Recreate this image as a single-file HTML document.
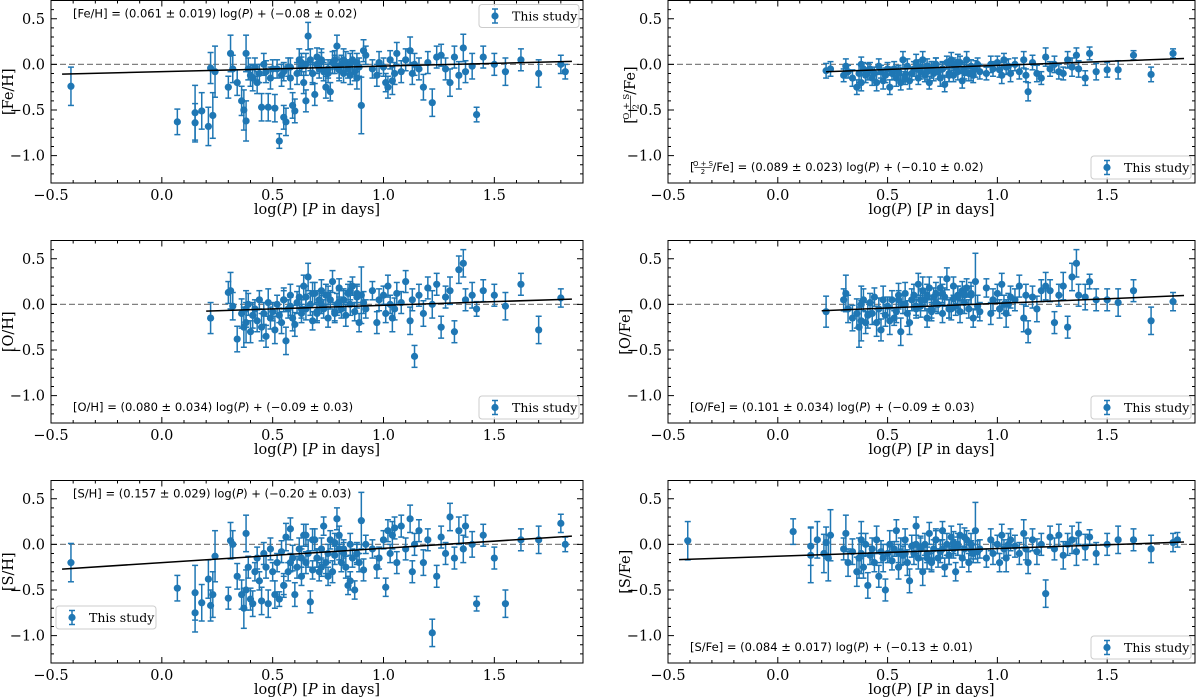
<!DOCTYPE html>
<html><head><meta charset="utf-8"><style>
html,body{margin:0;padding:0;background:#fff;}
svg{display:block;}
.tick{font-family:"DejaVu Serif","Liberation Serif",serif;font-size:14.5px;fill:#000;}
.lab{font-family:"DejaVu Serif","Liberation Serif",serif;font-size:14.5px;fill:#000;}
.ann{font-family:"DejaVu Sans","Liberation Sans",sans-serif;font-size:11.5px;fill:#000;}
.leg{font-family:"DejaVu Serif","Liberation Serif",serif;font-size:12.5px;fill:#000;}
</style></head><body>
<svg id="fig" width="1200" height="697" viewBox="0 0 1200 697" xmlns="http://www.w3.org/2000/svg"></svg>
<script>
const logP = [-0.41,0.07,0.15,0.15,0.18,0.21,0.22,0.23,0.24,0.30,
0.31,0.32,0.34,0.36,0.37,0.38,0.38,0.39,0.40,0.41,
0.42,0.43,0.44,0.45,0.46,0.47,0.48,0.49,0.50,0.51,
0.52,0.53,0.54,0.55,0.56,0.57,0.58,0.59,0.60,0.61,
0.62,0.63,0.64,0.65,0.66,0.67,0.68,0.69,0.70,0.71,
0.72,0.73,0.74,0.75,0.76,0.77,0.78,0.79,0.80,0.81,
0.82,0.83,0.84,0.85,0.86,0.87,0.88,0.89,0.90,0.91,
0.92,0.95,0.97,0.98,1.00,1.01,1.02,1.03,1.04,1.06,
1.08,1.10,1.12,1.13,1.14,1.16,1.18,1.20,1.22,1.24,
1.26,1.28,1.30,1.32,1.34,1.36,1.37,1.40,1.42,1.45,
1.50,1.55,1.62,1.70,1.80,1.82,0.55,0.63,0.68,0.72,
0.75,0.78,0.82,0.85,0.58,0.65,0.70,0.80,0.88,1.05];
const feH = [-0.24,-0.63,-0.64,-0.53,-0.51,-0.68,-0.04,-0.56,-0.08,-0.25,
0.12,-0.05,-0.20,-0.40,-0.50,0.12,-0.62,-0.05,-0.12,-0.15,
-0.03,-0.20,-0.10,-0.47,0.00,-0.08,-0.47,-0.15,-0.05,-0.48,
-0.05,-0.84,-0.12,-0.58,-0.63,-0.03,-0.15,-0.45,-0.51,-0.10,
0.05,-0.02,-0.20,-0.40,0.31,0.05,-0.10,-0.33,0.00,-0.05,
0.05,-0.08,-0.25,-0.10,-0.30,0.02,0.05,0.20,-0.05,0.00,
-0.10,0.02,-0.05,0.00,0.05,-0.08,-0.15,-0.03,-0.45,0.15,
0.10,-0.05,-0.12,0.02,-0.03,-0.20,-0.25,0.05,-0.18,0.12,
-0.08,0.05,0.15,-0.10,0.00,-0.05,-0.25,0.02,-0.42,0.08,
0.10,-0.05,-0.20,0.08,-0.12,0.18,-0.08,-0.02,-0.55,0.08,
0.00,-0.08,0.05,-0.10,0.00,-0.08,-0.08,0.02,-0.10,0.03,
-0.05,0.00,0.05,-0.12,-0.03,0.00,0.08,-0.06,0.02,-0.10];
const osFe = [null,null,null,null,null,null,-0.07,null,-0.05,-0.12,
-0.02,-0.08,-0.15,-0.25,-0.10,0.00,-0.20,-0.05,-0.12,-0.08,
-0.05,-0.15,-0.10,-0.20,-0.02,-0.08,-0.18,-0.12,-0.05,-0.25,
-0.10,-0.05,-0.15,-0.08,-0.20,0.05,-0.12,-0.02,-0.18,-0.10,
-0.05,0.02,-0.15,-0.08,0.05,-0.12,-0.02,-0.20,-0.06,-0.10,
0.00,-0.08,-0.15,-0.05,-0.22,0.02,-0.10,0.05,-0.12,-0.03,
-0.08,0.02,-0.18,-0.05,0.05,-0.10,-0.02,-0.12,-0.05,0.00,
-0.08,-0.10,0.00,-0.05,0.02,-0.06,-0.12,0.05,-0.03,-0.10,
0.00,-0.08,0.05,-0.12,-0.30,0.02,-0.10,-0.15,0.08,-0.05,
0.00,-0.08,-0.10,0.05,-0.03,0.10,-0.05,-0.15,0.12,-0.08,
-0.06,-0.06,0.10,-0.11,0.12,null,-0.10,-0.05,-0.08,0.00,
-0.05,-0.12,0.02,-0.08,-0.15,-0.03,-0.06,0.00,-0.10,-0.02];
const oH = [null,null,null,null,null,null,-0.15,null,null,0.13,
0.15,-0.02,-0.38,-0.10,-0.25,-0.05,-0.20,0.00,-0.30,-0.12,
-0.05,-0.18,0.05,-0.25,-0.10,-0.35,0.02,-0.15,-0.08,-0.28,
0.00,-0.12,-0.20,0.05,-0.40,-0.05,0.10,-0.15,-0.22,0.02,
0.08,-0.10,0.20,-0.05,0.30,0.00,-0.18,0.12,-0.08,0.05,
0.15,-0.05,0.10,-0.15,0.05,0.25,-0.10,0.00,0.18,-0.05,
0.05,-0.12,0.12,0.00,0.20,-0.08,0.08,-0.20,0.10,0.02,
-0.05,0.15,-0.20,0.05,0.10,-0.10,0.20,0.00,-0.15,0.12,
0.02,0.25,-0.18,0.05,-0.57,0.10,-0.10,0.18,0.00,0.22,
-0.25,0.08,0.15,-0.30,0.38,0.45,0.05,0.10,-0.05,0.15,
0.10,-0.02,0.22,-0.28,0.07,null,0.05,-0.05,0.12,0.00,
0.10,-0.08,0.05,0.15,-0.02,0.08,-0.10,0.03,0.12,-0.05];
const oFe = [null,null,null,null,null,null,-0.08,null,null,0.05,
0.12,-0.05,-0.15,-0.10,-0.25,0.00,-0.18,0.05,-0.20,-0.12,
0.02,-0.10,0.08,-0.20,-0.05,-0.28,0.05,-0.12,-0.02,-0.18,
0.05,-0.15,-0.08,0.10,-0.30,0.00,0.12,-0.10,-0.20,0.05,
0.10,-0.05,0.22,-0.02,0.15,0.05,-0.15,0.18,-0.05,0.08,
0.12,0.00,0.18,-0.10,0.08,0.28,-0.05,-0.05,0.20,-0.02,
0.10,-0.08,0.15,0.02,0.18,-0.05,0.12,-0.15,0.25,-0.02,
-0.08,0.18,-0.10,0.05,0.12,-0.05,0.22,0.00,-0.10,0.08,
0.05,0.20,-0.15,0.10,-0.30,0.08,-0.05,0.15,0.20,0.15,
-0.20,0.10,0.20,-0.25,0.30,0.45,0.10,0.08,0.25,0.05,
0.05,0.02,0.15,-0.18,0.03,null,0.05,-0.02,0.10,0.02,
0.12,-0.05,0.08,0.10,0.00,0.05,-0.08,0.06,0.10,0.00];
const sH = [-0.20,-0.48,-0.75,-0.53,-0.64,-0.38,-0.67,-0.55,-0.13,-0.59,
0.04,0.00,-0.35,-0.55,-0.70,0.12,-0.50,-0.25,-0.60,-0.65,
-0.30,-0.15,-0.40,-0.62,-0.10,-0.25,-0.65,-0.05,-0.30,-0.55,
-0.20,-0.60,-0.08,-0.45,0.08,-0.30,0.17,-0.15,-0.55,-0.25,
-0.05,-0.35,0.10,-0.20,-0.10,-0.63,-0.28,0.05,-0.15,-0.30,
-0.05,0.20,-0.20,-0.10,0.05,-0.30,-0.12,0.28,0.10,-0.20,
-0.05,-0.25,-0.45,0.00,-0.15,-0.50,-0.10,-0.20,0.26,-0.28,
0.00,-0.05,-0.25,-0.15,0.05,-0.47,0.15,-0.10,0.10,-0.20,
0.20,-0.05,0.28,-0.30,0.00,0.15,-0.20,0.05,-0.97,-0.35,
0.08,-0.10,0.30,-0.15,0.15,-0.05,0.20,0.00,-0.65,0.10,
-0.15,-0.65,0.05,0.05,0.23,0.00,-0.45,-0.15,0.05,-0.25,
-0.35,0.02,-0.10,-0.40,-0.20,0.10,-0.15,-0.05,-0.10,0.18];
const sFe = [0.04,0.14,-0.02,-0.12,0.05,-0.10,0.02,-0.15,0.10,-0.05,
0.12,-0.20,-0.08,-0.30,-0.15,0.05,-0.10,-0.25,0.00,-0.45,
-0.12,-0.05,-0.20,0.05,-0.35,-0.08,-0.15,-0.50,-0.10,0.00,
-0.18,-0.05,0.15,-0.25,-0.08,-0.12,0.05,-0.20,-0.40,-0.02,
-0.10,0.20,-0.15,-0.05,-0.30,0.00,-0.10,0.12,-0.20,-0.05,
0.05,-0.15,-0.08,0.15,-0.25,0.00,-0.12,0.08,-0.05,-0.30,
-0.02,0.10,-0.15,-0.05,0.05,-0.20,0.00,-0.10,0.15,-0.08,
-0.05,-0.15,0.05,-0.10,0.00,-0.20,0.10,-0.05,-0.15,0.05,
-0.02,-0.10,0.12,-0.05,-0.20,0.05,-0.08,0.00,-0.54,0.08,
-0.05,0.10,-0.12,0.00,0.05,-0.08,0.12,-0.03,0.08,-0.10,
0.00,0.05,0.05,-0.05,0.02,0.05,-0.10,0.00,-0.15,0.05,
-0.05,-0.12,0.00,0.08,-0.10,-0.03,-0.18,0.02,-0.06,0.00];
const errH = [0.21,0.14,0.21,0.30,0.20,0.21,0.17,0.25,0.28,0.12,
0.20,0.15,0.14,0.16,0.22,0.20,0.22,0.12,0.12,0.14,
0.10,0.12,0.10,0.15,0.12,0.12,0.15,0.12,0.10,0.15,
0.10,0.08,0.12,0.13,0.15,0.10,0.12,0.14,0.13,0.12,
0.12,0.10,0.12,0.12,0.15,0.12,0.10,0.12,0.10,0.10,
0.12,0.10,0.12,0.10,0.10,0.12,0.10,0.12,0.10,0.10,
0.10,0.12,0.10,0.12,0.10,0.10,0.12,0.10,0.31,0.12,
0.10,0.10,0.12,0.12,0.10,0.10,0.12,0.10,0.15,0.12,
0.12,0.12,0.15,0.12,0.12,0.12,0.14,0.12,0.15,0.12,
0.12,0.12,0.15,0.12,0.15,0.15,0.12,0.14,0.08,0.12,
0.12,0.15,0.12,0.15,0.10,0.08,0.10,0.10,0.12,0.10,
0.10,0.10,0.12,0.10,0.10,0.12,0.10,0.12,0.10,0.12];
const errFe = [0.10,0.10,0.10,0.10,0.10,0.10,0.08,0.10,0.08,0.07,
0.08,0.07,0.09,0.08,0.10,0.08,0.09,0.07,0.08,0.09,
0.07,0.08,0.07,0.09,0.08,0.07,0.09,0.08,0.07,0.08,
0.07,0.08,0.09,0.07,0.08,0.09,0.07,0.08,0.09,0.07,
0.08,0.09,0.07,0.08,0.09,0.07,0.08,0.07,0.09,0.08,
0.07,0.08,0.09,0.07,0.08,0.07,0.09,0.08,0.07,0.08,
0.09,0.07,0.08,0.07,0.09,0.08,0.07,0.08,0.09,0.07,
0.08,0.07,0.09,0.08,0.07,0.08,0.09,0.07,0.08,0.09,
0.07,0.08,0.09,0.07,0.10,0.08,0.09,0.07,0.10,0.08,
0.09,0.08,0.07,0.09,0.10,0.08,0.09,0.08,0.07,0.09,
0.08,0.10,0.05,0.08,0.05,0.05,0.07,0.08,0.09,0.07,
0.08,0.07,0.09,0.08,0.07,0.08,0.09,0.07,0.08,0.08];
const panels = [
 {name:'fe-h', col:0,row:0,y:feH,e:errH,slope:0.061,icpt:-0.08,xs:-0.45,xe:1.85,ylab:'[Fe/H]',ann:['[Fe/H] = (0.061 ± 0.019) log(','P',') + (−0.08 ± 0.02)'],annPos:'top',leg:'tr'},
 {name:'os-fe', col:1,row:0,y:osFe,e:errFe,slope:0.089,icpt:-0.10,xs:0.22,xe:1.85,ylab:'osfe',ann:['/Fe] = (0.089 ± 0.023) log(','P',') + (−0.10 ± 0.02)'],annPos:'bottom',leg:'br'},
 {name:'o-h', col:0,row:1,y:oH,e:errH,slope:0.080,icpt:-0.09,xs:0.20,xe:1.85,ylab:'[O/H]',ann:['[O/H] = (0.080 ± 0.034) log(','P',') + (−0.09 ± 0.03)'],annPos:'bottom',leg:'br'},
 {name:'o-fe', col:1,row:1,y:oFe,e:errH,slope:0.101,icpt:-0.09,xs:0.20,xe:1.85,ylab:'[O/Fe]',ann:['[O/Fe] = (0.101 ± 0.034) log(','P',') + (−0.09 ± 0.03)'],annPos:'bottom',leg:'br'},
 {name:'s-h', col:0,row:2,y:sH,e:errH,slope:0.157,icpt:-0.20,xs:-0.45,xe:1.85,ylab:'[S/H]',ann:['[S/H] = (0.157 ± 0.029) log(','P',') + (−0.20 ± 0.03)'],annPos:'top',leg:'bl'},
 {name:'s-fe', col:1,row:2,y:sFe,e:errH,slope:0.084,icpt:-0.13,xs:-0.45,xe:1.85,ylab:'[S/Fe]',ann:['[S/Fe] = (0.084 ± 0.017) log(','P',') + (−0.13 ± 0.01)'],annPos:'bottom',leg:'br'}
];
const xTicks = [-0.5,0.0,0.5,1.0,1.5];
const yTicks = [0.5,0.0,-0.5,-1.0];
const XMIN=-0.5,XMAX=1.9,YMIN=-1.3,YMAX=0.7;
const colX=[[51,583],[668,1195]], rowY=[0,240,480], H=183;
const NS='http://www.w3.org/2000/svg', svg=document.getElementById('fig'), C='#1f77b4';
function mk(tag,attrs,parent){const e=document.createElementNS(NS,tag);for(const k in attrs)e.setAttribute(k,attrs[k]);(parent||svg).appendChild(e);return e;}
function fmt(v){return (v<0?'−':'')+Math.abs(v).toFixed(1);}
function frac(parent,x,y,cls,fs){
 const a=mk('text',{x:x,y:y,class:cls},parent);a.textContent='[';
 const fx=x+(fs>12?6:4.5);
 const small=(fs*0.6).toFixed(1);
 const w=fs>12?22:17;
 const n=mk('text',{x:fx+w/2,y:y-fs*0.42,'text-anchor':'middle',class:cls,style:'font-size:'+small+'px'},parent);n.textContent='O + S';
 mk('line',{x1:fx,x2:fx+w,y1:y-fs*0.3,y2:y-fs*0.3,stroke:'#000','stroke-width':0.7},parent);
 const d=mk('text',{x:fx+w/2,y:y+fs*0.25,'text-anchor':'middle',class:cls,style:'font-size:'+small+'px'},parent);d.textContent='2';
 return fx+w+1;
}
panels.forEach(p=>{
 const x0=colX[p.col][0],x1=colX[p.col][1],y0=rowY[p.row]+0.5,y1=rowY[p.row]+H;
 const sx=v=>x0+(v-XMIN)/(XMAX-XMIN)*(x1-x0);
 const sy=v=>y1-(v-YMIN)/(YMAX-YMIN)*(y1-y0);
 const g=mk('g',{});
 
 
 const z=mk('line',{x1:x0,x2:x1,y1:sy(0),y2:sy(0),stroke:'#808080','stroke-width':1.3,'stroke-dasharray':'6,3'},g);
 
 
 const pg=mk('g',{},g);
 
 
 logP.forEach((xv,i)=>{
  const yv=p.y[i]; if(yv===null||yv===undefined) return;
  const cx=sx(xv),cy=sy(yv),ey=p.e[i];
  const t=sy(yv+ey),b=sy(yv-ey);
  mk('line',{x1:cx,x2:cx,y1:t,y2:b,stroke:C,'stroke-width':1.5},pg);
  mk('line',{x1:cx-3,x2:cx+3,y1:t,y2:t,stroke:C,'stroke-width':1.5},pg);
  mk('line',{x1:cx-3,x2:cx+3,y1:b,y2:b,stroke:C,'stroke-width':1.5},pg);
  const c=mk('circle',{cx:cx,cy:cy,r:3.6,fill:C},pg);
  
  
 });
 const f=mk('line',{x1:sx(p.xs),y1:sy(p.slope*p.xs+p.icpt),x2:sx(p.xe),y2:sy(p.slope*p.xe+p.icpt),stroke:'#000','stroke-width':1.5},g);
 
 
 const fr=mk('rect',{x:x0,y:y0,width:x1-x0,height:y1-y0,fill:'none',stroke:'#000','stroke-width':1},g);
 
 
 for(let k=-5;k<=19;k++){const v=k/10,X=sx(v);if(X<x0-0.1||X>x1+0.1)continue;const major=(k%5===0);const L=major?6:3;
  mk('line',{x1:X,x2:X,y1:y1,y2:y1-L,stroke:'#000','stroke-width':1},g);
  mk('line',{x1:X,x2:X,y1:y0,y2:y0+L,stroke:'#000','stroke-width':1},g);}
 for(let k=-13;k<=7;k++){const v=k/10,Y=sy(v);const major=(k%5===0);const L=major?6:3;
  mk('line',{x1:x0,x2:x0+L,y1:Y,y2:Y,stroke:'#000','stroke-width':1},g);
  mk('line',{x1:x1,x2:x1-L,y1:Y,y2:Y,stroke:'#000','stroke-width':1},g);}
 xTicks.forEach(v=>{const t=mk('text',{x:sx(v),y:y1+17,'text-anchor':'middle',class:'tick'},g);t.textContent=fmt(v);
  
  });
 yTicks.forEach(v=>{const t=mk('text',{x:x0-6,y:sy(v)+5,'text-anchor':'end',class:'tick'},g);t.textContent=fmt(v);
  
  });
 const xl=mk('text',{x:(x0+x1)/2,y:y1+31,'text-anchor':'middle',class:'lab'},g);
 xl.innerHTML='log(<tspan font-style="italic">P</tspan>) [<tspan font-style="italic">P</tspan> in days]';
 
 
 const yc=(y0+y1)/2, yx=x0-38;
 if(p.ylab==='osfe'){
  const yg=mk('g',{transform:`translate(${yx+5} ${yc}) rotate(-90)`},g);
  
  
  const ex=frac(yg,-32,0,'lab',14.5);
  const t=mk('text',{x:ex,y:0,class:'lab'},yg);t.textContent='/Fe]';
 } else {
  const yl=mk('text',{x:yx,y:yc,'text-anchor':'middle',class:'lab',transform:`rotate(-90 ${yx} ${yc})`},g);
  yl.textContent=p.ylab;
  
  
 }
 const ay=p.annPos==='top'?y0+17:y1-12;
 let ax=x0+22;
 const ag=mk('g',{},g);
 
 
 if(p.ylab==='osfe') ax=frac(ag,ax,ay,'ann',11.5);
 const an=mk('text',{x:ax,y:ay,class:'ann'},ag);
 an.innerHTML=p.ann[0]+'<tspan font-style="italic">'+p.ann[1]+'</tspan>'+p.ann[2];
 const lw=100,lh=23;
 let lx,ly;
 if(p.leg==='tr'){lx=x1-lw-4;ly=y0+4;} else if(p.leg==='br'){lx=x1-lw-4;ly=y1-lh-4;} else {lx=x0+5;ly=y1-lh-34;}
 const lg=mk('g',{},g);
 
 
 mk('rect',{x:lx,y:ly,width:lw,height:lh,rx:3,fill:'#fff','fill-opacity':0.85,stroke:'#ccc','stroke-width':1},lg);
 const mx=lx+16,my=ly+lh/2;
 mk('line',{x1:mx,x2:mx,y1:my-7,y2:my+7,stroke:C,'stroke-width':1.5},lg);
 mk('line',{x1:mx-3,x2:mx+3,y1:my-7,y2:my-7,stroke:C,'stroke-width':1.5},lg);
 mk('line',{x1:mx-3,x2:mx+3,y1:my+7,y2:my+7,stroke:C,'stroke-width':1.5},lg);
 mk('circle',{cx:mx,cy:my,r:3.6,fill:C},lg);
 const lt=mk('text',{x:lx+33,y:my+4.5,class:'leg'},lg);
 lt.textContent='This study';
 
 
});
</script>
</body></html>
